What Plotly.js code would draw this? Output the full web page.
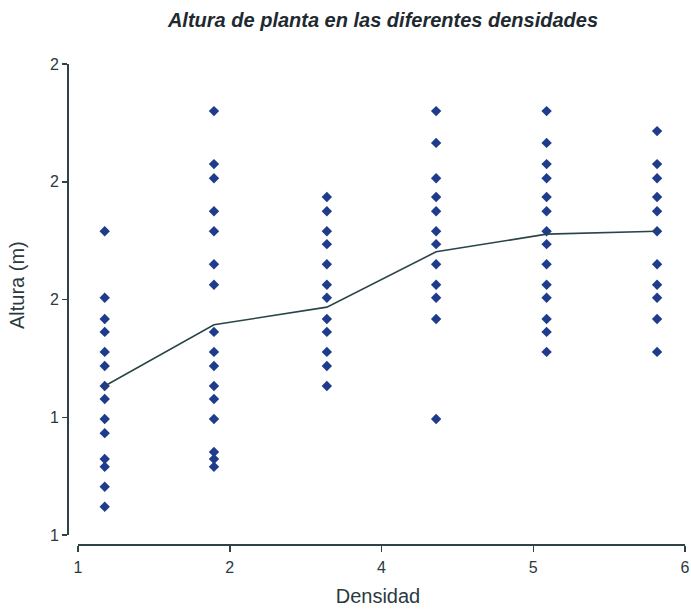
<!DOCTYPE html>
<html>
<head>
<meta charset="utf-8">
<script src="https://cdn.plot.ly/plotly-3.0.1.min.js"></script>
<style>html,body{margin:0;padding:0;background:#fff;}#chart{width:691px;height:612px;}</style>
</head>
<body>
<div id="chart"></div>
<script>
// Density positions (x) of the six groups
const densidad = [1.22, 2.12, 3.05, 3.95, 4.86, 5.77];
// Plant heights (m) per density group
const altura1 = [1.716, 1.603, 1.567, 1.545, 1.511, 1.487, 1.453, 1.431, 1.397, 1.373, 1.329, 1.316, 1.282, 1.248];
const altura2 = [1.920, 1.830, 1.806, 1.750, 1.716, 1.660, 1.625, 1.545, 1.511, 1.487, 1.453, 1.431, 1.397, 1.341, 1.329, 1.316];
const altura3 = [1.774, 1.750, 1.716, 1.694, 1.660, 1.625, 1.603, 1.567, 1.545, 1.511, 1.487, 1.453];
const altura4 = [1.920, 1.866, 1.806, 1.774, 1.750, 1.716, 1.694, 1.660, 1.625, 1.603, 1.567, 1.397];
const altura5 = [1.920, 1.866, 1.830, 1.806, 1.774, 1.750, 1.716, 1.694, 1.660, 1.625, 1.603, 1.567, 1.545, 1.511];
const altura6 = [1.886, 1.830, 1.806, 1.774, 1.750, 1.716, 1.660, 1.625, 1.603, 1.567, 1.511];
// Mean height per density (line)
const media = [1.453, 1.557, 1.587, 1.681, 1.711, 1.716];
// Axis ticks
const xTickVals = [1, 2.25, 3.5, 4.75, 6];
const xTickText = ["1", "2", "4", "5", "6"];
const yTickVals = [1.2, 1.4, 1.6, 1.8, 2.0];
const yTickText = ["1", "1", "2", "2", "2"];

const groups = [altura1, altura2, altura3, altura4, altura5, altura6];
const px = [], py = [];
groups.forEach((g, i) => g.forEach(v => { px.push(densidad[i]); py.push(v); }));

const axisColor = '#2f4246';
const textColor = '#2b3a40';
const fam = 'Liberation Sans, Arial, sans-serif';

const traces = [
  {
    x: px, y: py, type: 'scatter', mode: 'markers',
    marker: {symbol: 'diamond', size: 8, color: '#1f3c8c'},
    hoverinfo: 'x+y', showlegend: false
  },
  {
    x: densidad, y: media, type: 'scatter', mode: 'lines',
    line: {color: '#2a4548', width: 1.6},
    showlegend: false
  }
];

const layout = {
  width: 691, height: 612,
  paper_bgcolor: '#ffffff', plot_bgcolor: '#ffffff',
  margin: {l: 68, r: 3, t: 55, b: 67},
  font: {family: fam, color: textColor, size: 16},
  title: {
    text: '<b><i>Altura de planta en las diferentes densidades</i></b>',
    font: {size: 20, color: '#1e2a30', family: fam},
    x: 383 / 691, xref: 'container', xanchor: 'center',
    y: 1 - 20 / 612, yref: 'container', yanchor: 'middle'
  },
  xaxis: {
    range: [1 - 10 / 121.4, 6 + 3 / 121.4],
    tickvals: xTickVals, ticktext: xTickText,
    ticks: 'outside', ticklen: 6, tickwidth: 1.5, tickcolor: axisColor,
    ticklabelstandoff: 2,
    showgrid: false, zeroline: false, showline: false,
    tickfont: {size: 16, color: textColor},
    title: {text: 'Densidad', font: {size: 20, color: textColor}, standoff: 13}
  },
  yaxis: {
    range: [1.2 - 10 / 588.75, 2.0 + 9 / 588.75],
    tickvals: yTickVals, ticktext: yTickText,
    ticks: 'outside', ticklen: 5, tickwidth: 1.5, tickcolor: axisColor,
    showgrid: false, zeroline: false, showline: false,
    tickfont: {size: 16, color: textColor}
  },
  annotations: [
    {text: 'Altura (m)', textangle: -90, showarrow: false,
     xref: 'paper', yref: 'paper', x: (17 - 68) / 620, y: (545 - 285) / 490,
     xanchor: 'center', yanchor: 'middle',
     font: {size: 20, color: textColor, family: fam}}
  ],
  shapes: [
    {type: 'line', xref: 'paper', yref: 'y', x0: 0, x1: 0, y0: yTickVals[0], y1: yTickVals[yTickVals.length - 1],
     line: {color: axisColor, width: 2}},
    {type: 'line', xref: 'x', yref: 'paper', x0: xTickVals[0], x1: xTickVals[xTickVals.length - 1], y0: 0, y1: 0,
     line: {color: axisColor, width: 2}}
  ]
};

Plotly.newPlot('chart', traces, layout, {displayModeBar: false, staticPlot: true});
</script>
</body>
</html>
